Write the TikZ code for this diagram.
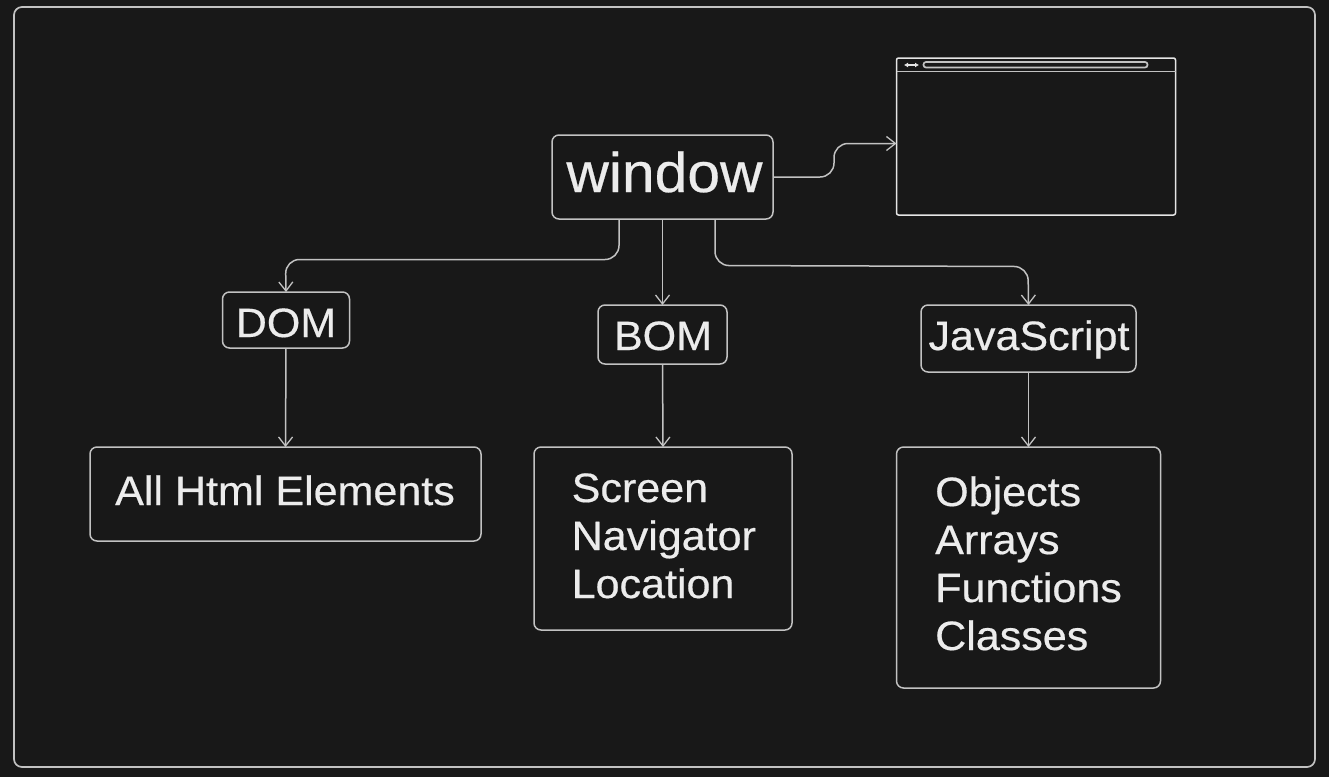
\documentclass[tikz,border=0pt]{standalone}
\usepackage{fontspec}
\setmainfont{Liberation Sans}[FakeBold=0.25]
\newfontfamily\widefont{Liberation Sans}[FakeBold=0.45,FakeStretch=1.05]
\usetikzlibrary{arrows.meta,calc}
\definecolor{bgc}{HTML}{181818}
\definecolor{linec}{HTML}{C2C2C2}
\definecolor{textc}{HTML}{ECECEC}
\tikzset{
  x=1pt,y=-1pt,
  boxn/.style={draw=linec,line width=1.5pt,rounded corners=7pt,text=textc,inner sep=0pt,outer sep=0pt,anchor=north west},
  frameb/.style={draw=linec,line width=1.7pt,rounded corners=8pt},
  conn/.style={draw=linec,line width=1.5pt,rounded corners=14pt,-{Straight Barb[length=9pt,width=14pt,line width=1.3pt]}},
  lbl/.style={text=textc,inner sep=0pt,anchor=base,font=\widefont\fontsize{#1}{#1}\selectfont},
  lbw/.style={text=textc,inner sep=0pt,anchor=base west,font=\widefont\fontsize{#1}{#1}\selectfont}
}
\begin{document}
\begin{tikzpicture}
\useasboundingbox (0,0) rectangle (1329,777);
\fill[bgc] (0,0) rectangle (1329,777);
\draw[frameb] (14,7) rectangle (1315,767);
% browser
\node[draw=white!90!black,line width=1.5pt,rounded corners=2pt,outer sep=0pt,anchor=north west,minimum width=279pt,minimum height=157pt,inner sep=0pt] (browser) at (896.5,58) {};
\draw[linec,line width=1.2pt] (896.5,71.5) -- (1175.5,71.5);
\draw[linec,line width=1.7pt,rounded corners=2.5pt] (923.5,62) rectangle (1147.5,67.5);
\draw[white!90!black,line width=1.2pt,{Latex[length=4pt,width=5pt]}-{Latex[length=4pt,width=5pt]}] (904,65) -- (919,65);
% boxes
\node[boxn,minimum width=221pt,minimum height=84pt] (window) at (552,135) {};
\node[lbl=56] (windowt) at (664.5,192) {window};
\node[boxn,minimum width=127pt,minimum height=56pt] (dom) at (222.5,292) {};
\node[lbl=41] (domt) at (286,337) {DOM};
\node[boxn,minimum width=129pt,minimum height=59pt] (bom) at (598,305) {};
\node[lbl=41] (bomt) at (663,350) {BOM};
\node[boxn,minimum width=215pt,minimum height=67pt] (js) at (921,305) {};
\node[lbl=41] (jst) at (1029,350) {JavaScript};
\node[boxn,minimum width=391pt,minimum height=94pt] (html) at (90,447) {};
\node[lbw=41] (htmlt) at (115,505) {All Html Elements};
\node[boxn,minimum width=258pt,minimum height=183pt] (bomlist) at (534,447) {};
\node[lbw=41] (l1) at (571.5,502) {Screen};
\node[lbw=41] (l2) at (571.5,550) {Navigator};
\node[lbw=41] (l3) at (571.5,598) {Location};
\node[boxn,minimum width=264pt,minimum height=241pt] (jslist) at (896.5,447) {};
\node[lbw=41] (j1) at (935,506) {Objects};
\node[lbw=41] (j2) at (935,554) {Arrays};
\node[lbw=41] (j3) at (935,602) {Functions};
\node[lbw=41] (j4) at (935,650) {Classes};
% connectors
\coordinate (wr) at (window.east |- 0,177);
\coordinate (bl) at (browser.west |- 0,143.5);
\draw[conn] (wr) -- (834,177) -- (834,143.5) -- (bl);
\coordinate (wa) at (619,219);
\coordinate (da) at (dom.north);
\draw[conn] (wa) -- (619,259.5) -- (285.5,259.5) -- (da);
\coordinate (wb) at (window.south -| bom.north);
\draw[conn] (wb) -- (bom.north);
\coordinate (wc) at (715,219);
\draw[conn] (wc) -- (715,265.5) -- (1028,266.5) -- (js.north);
\draw[conn] (dom.south) -- (html.north);
\draw[conn] (bom.south) -- (bomlist.north);
\draw[conn] (js.south) -- (jslist.north);
\end{tikzpicture}
\end{document}
